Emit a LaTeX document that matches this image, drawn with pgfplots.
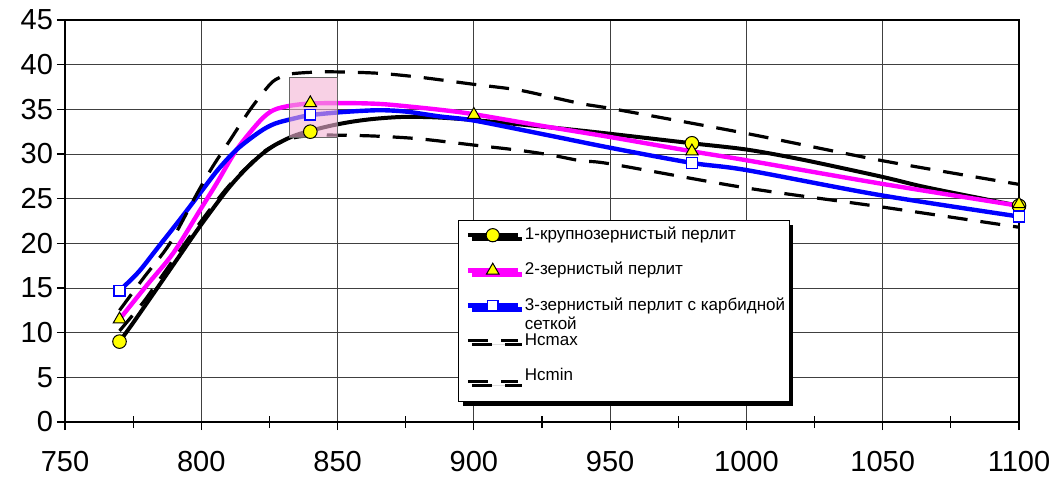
\documentclass[border=0pt]{standalone}
\usepackage{fontspec}
\setmainfont{Liberation Sans}
\usepackage{pgfplots}
\pgfplotsset{compat=1.18}
\usetikzlibrary{shadows}

\definecolor{mag}{RGB}{255,0,255}
\definecolor{blu}{RGB}{0,0,255}
\definecolor{yel}{RGB}{255,255,0}
\definecolor{pinkbox}{RGB}{243,178,212}

\begin{document}
\begin{tikzpicture}
\useasboundingbox (-32.5pt,-27.5pt) rectangle (496.5pt,211pt);
\begin{axis}[
  at={(0,0)}, anchor=south west,
  scale only axis, width=477pt, height=201pt,
  xmin=750, xmax=1100, ymin=0, ymax=45,
  xtick={750,800,...,1100}, ytick={0,5,...,45},
  extra x ticks={775,825,...,1075},
  extra x tick labels={},
  extra x tick style={grid=none, tick align=center, major tick length=6pt},
  tick pos=left,
  tick align=outside,
  major tick length=4pt,
  grid=major,
  major grid style={black!75, line width=0.5pt},
  axis line style={black, line width=0.7pt},
  tick style={black, line width=0.6pt},
  /pgf/number format/assume math mode=true,
  /pgf/number format/1000 sep={},
  ticklabel style={font=\fontsize{14.5}{14.5}\selectfont},
  xticklabel style={inner sep=0pt, yshift=-10.6pt},
  yticklabel style={xshift=1.5pt},
  legend image code/.code={\path (0pt,0pt); \draw[mark repeat=2,mark phase=2,#1] plot coordinates {(1.5pt,0pt) (14pt,0pt) (26.5pt,0pt)};},
  legend cell align=left,
  legend style={
    at={(rel axis cs:0.412,0.5025)}, anchor=north west,
    draw=black, line width=0.5pt, fill=white,
    font=\fontsize{8.5}{9.5}\selectfont,
    drop shadow={shadow xshift=2pt, shadow yshift=-2pt, fill=black, opacity=1},
    inner xsep=2pt, inner ysep=2.6pt,
    row sep=8.1pt,
    nodes={inner xsep=0pt, inner ysep=0pt, text height=7pt, text depth=2.5pt},
    /tikz/every odd column/.append style={column sep=2.5pt},
    /tikz/every even column/.append style={column sep=0pt},
  },
]
% legend entries
\addlegendimage{black, line width=2pt, mark=*, mark size=3.3pt, mark options={fill=yel, draw=black, line width=0.5pt, solid}}
\addlegendentry{1-крупнозернистый перлит}
\addlegendimage{mag, line width=2.2pt, mark=triangle*, mark size=3.6pt, mark options={fill=yel, draw=black, line width=0.5pt, solid}}
\addlegendentry{2-зернистый перлит}
\addlegendimage{blu, line width=2.2pt, mark=square*, mark size=2.7pt, mark options={fill=white, draw=blu, line width=0.7pt, solid}}
\addlegendentry{\begin{tabular}[t]{@{}l@{}}3-зернистый перлит с карбидной\\сеткой\end{tabular}}
\addlegendimage{black, line width=1.6pt, dash pattern=on 10pt off 6.7pt}
\addlegendentry{Hcmax}
\addlegendimage{black, line width=1.6pt, dash pattern=on 10pt off 6.7pt}
\addlegendentry[text depth=8pt]{Hcmin}

% 1 - black
\addplot[black, line width=2pt, smooth, forget plot] coordinates {
(770,9.0) (775,11.1) (785,15.5) (792,18.6) (799.5,21.9) (809,25.8) (815,27.9)
(821.5,29.8) (827,31.0) (833.7,32.0) (840,32.6) (848,33.2) (856,33.65) (864,33.95)
(874,34.15) (886,34.1) (900,33.8) (924,33.1) (946,32.4) (980,31.2)
(1000,30.5) (1020,29.4) (1049,27.5) (1064,26.4) (1080,25.4) (1100,24.2)};
% 2 - magenta
\addplot[mag, line width=2.2pt, smooth, forget plot] coordinates {
(770,11.5) (780,15.3) (789.7,18.9) (799.5,23.7) (805.6,26.7) (813,30.5) (821.5,33.7)
(826.4,34.9) (832.5,35.4) (840,35.65) (852,35.7) (862,35.65) (870,35.5) (887.6,34.95)
(900,34.45) (924,33.2) (950,31.9) (980,30.3) (1000,29.3) (1049,26.7) (1100,24.2)};
% 3 - blue
\addplot[blu, line width=2.2pt, smooth, forget plot] coordinates {
(770,14.7) (777,16.8) (784,19.5) (792,22.6) (799.5,25.6) (806,28.2) (813,30.5)
(821.5,32.5) (827,33.4) (833.7,33.95) (840,34.35) (852,34.7) (865,34.9) (875,34.75)
(887.6,34.2) (900,33.75) (924,32.3) (950,30.7) (980,29.0) (1000,28.2)
(1049,25.4) (1100,23.0)};
% Hcmax
\addplot[black, line width=1.6pt, dash pattern=on 10pt off 6.5pt, smooth, forget plot] coordinates {
(770,12.5) (779,16.2) (788.5,20.0) (798.3,25.5) (804,28.5) (810,31.3) (818,35.0)
(825.2,37.8) (829,38.6) (833.7,39.0) (846,39.2) (864.3,39.05) (880,38.6) (900,37.8)
(915.7,37.2) (928,36.4) (940,35.6) (952,35.0) (1000,32.3) (1049,29.3) (1100,26.6)};
% Hcmin
\addplot[black, line width=1.6pt, dash pattern=on 10pt off 6.5pt, smooth, forget plot] coordinates {
(770,10.2) (778.7,13.4) (785,16.1) (798.3,21.8) (810,26.4) (821.5,29.9) (827,31.0)
(833.7,31.8) (842,32.1) (852,32.1) (864.3,32.0) (880,31.7) (900,31.0) (915.7,30.45)
(928,29.9) (940,29.2) (950,28.9) (1000,26.2) (1049,24.1) (1100,21.8)};

% markers
\addplot[only marks, mark=*, mark size=3.4pt, mark options={fill=yel, draw=black, line width=0.5pt}, forget plot]
coordinates {(770,9.0) (840,32.5) (980,31.2) (1100,24.2)};
\addplot[only marks, mark=triangle*, mark size=3.6pt, mark options={fill=yel, draw=black, line width=0.5pt}, forget plot]
coordinates {(770,11.5) (840,35.7) (900,34.4) (980,30.3) (1100,24.4)};
\addplot[only marks, mark=square*, mark size=2.7pt, mark options={fill=white, draw=blu, line width=0.7pt}, forget plot]
coordinates {(770,14.7) (840,34.4) (980,29.0) (1100,23.0)};

% pink highlight box
\addplot[draw=black!60, line width=0.5pt, fill=pinkbox, fill opacity=0.6, forget plot]
coordinates {(832.3,31.8) (850,31.8) (850,38.6) (832.3,38.6)} -- cycle;
\end{axis}
\end{tikzpicture}
\end{document}
